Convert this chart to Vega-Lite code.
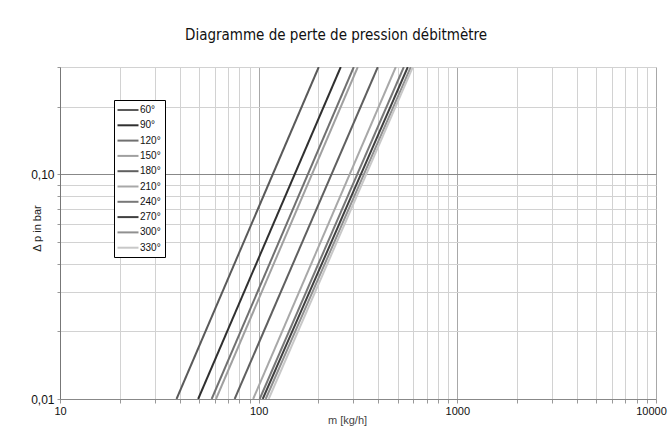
{
  "$schema": "https://vega.github.io/schema/vega-lite/v6.json",
  "autosize": "none",
  "width": 596,
  "height": 332,
  "padding": {"left": 60, "top": 67, "right": 14, "bottom": 40},
  "background": "white",
  "title": {
    "text": "Diagramme de perte de pression débitmètre",
    "font": "DejaVu Sans Condensed, Liberation Sans",
    "fontSize": 15,
    "fontWeight": "normal",
    "color": "#111111",
    "anchor": "middle",
    "dx": -22,
    "offset": 18
  },
  "config": {
    "font": "Liberation Sans",
    "view": {"stroke": "#cccccc", "strokeWidth": 1},
    "legend": {"strokeWidth": 1}
  },
  "data": {
    "values": [
      {"angle": "60°", "m": 38.6, "dp": 0.01}, {"angle": "60°", "m": 200.6, "dp": 0.3},
      {"angle": "90°", "m": 49.6, "dp": 0.01}, {"angle": "90°", "m": 258.9, "dp": 0.3},
      {"angle": "120°", "m": 58.0, "dp": 0.01}, {"angle": "120°", "m": 301.1, "dp": 0.3},
      {"angle": "150°", "m": 61.0, "dp": 0.01}, {"angle": "150°", "m": 315.3, "dp": 0.3},
      {"angle": "180°", "m": 75.7, "dp": 0.01}, {"angle": "180°", "m": 397.7, "dp": 0.3},
      {"angle": "210°", "m": 93.8, "dp": 0.01}, {"angle": "210°", "m": 490.0, "dp": 0.3},
      {"angle": "240°", "m": 101.2, "dp": 0.01}, {"angle": "240°", "m": 537.8, "dp": 0.3},
      {"angle": "270°", "m": 104.8, "dp": 0.01}, {"angle": "270°", "m": 563.2, "dp": 0.3},
      {"angle": "300°", "m": 108.5, "dp": 0.01}, {"angle": "300°", "m": 583.2, "dp": 0.3},
      {"angle": "330°", "m": 112.3, "dp": 0.01}, {"angle": "330°", "m": 596.9, "dp": 0.3}
    ]
  },
  "mark": {"type": "line", "strokeWidth": 2, "clip": true},
  "encoding": {
    "x": {
      "field": "m",
      "type": "quantitative",
      "scale": {"type": "log", "domain": [10, 10000], "nice": false},
      "axis": {
        "title": "m [kg/h]",
        "titleFont": "Liberation Sans",
        "titleFontSize": 11,
        "titleFontWeight": "normal",
        "titleColor": "#444444",
        "titleX": 287,
        "titleY": 21,
        "titleBaseline": "middle",
        "values": [10,20,30,40,50,60,70,80,90,100,200,300,400,500,600,700,800,900,1000,2000,3000,4000,5000,6000,7000,8000,9000,10000],
        "labelExpr": "(datum.value == 10 || datum.value == 100 || datum.value == 1000 || datum.value == 10000) ? datum.value + '' : ''",
        "labelFontSize": 11,
        "labelColor": "#111111",
        "labelPadding": 2,
        "labelFlush": false,
        "labelOverlap": false,
        "labelOffset": {"condition": {"test": "datum.value == 10000", "value": -5}, "value": 0},
        "tickSize": 4,
        "tickColor": "#999999",
        "domainColor": "#888888",
        "gridColor": {"condition": {"test": "datum.value == 100 || datum.value == 1000 || datum.value == 10000", "value": "#a8a8a8"}, "value": "#d2d2d2"},
        "gridWidth": 1
      }
    },
    "y": {
      "field": "dp",
      "type": "quantitative",
      "scale": {"type": "log", "domain": [0.01, 0.3], "nice": false},
      "axis": {
        "title": "Δ p in bar",
        "titleFont": "Liberation Sans",
        "titleFontSize": 11,
        "titleFontWeight": "normal",
        "titleColor": "#222222",
        "titleX": -23,
        "titleY": 161,
        "titleAngle": -90,
        "titleBaseline": "middle",
        "values": [0.01,0.02,0.03,0.04,0.05,0.06,0.07,0.08,0.09,0.1,0.2,0.3],
        "labelExpr": "abs(datum.value - 0.01) < 0.0001 ? '0,01' : (abs(datum.value - 0.1) < 0.0001 ? '0,10' : '')",
        "labelFontSize": 12,
        "labelColor": "#111111",
        "labelPadding": 3,
        "labelOverlap": false,
        "tickSize": 3,
        "tickColor": "#999999",
        "domainColor": "#777777",
        "gridColor": {"condition": {"test": "abs(datum.value - 0.1) < 0.0001", "value": "#888888"}, "value": "#d2d2d2"},
        "gridWidth": 1
      }
    },
    "color": {
      "field": "angle",
      "type": "nominal",
      "scale": {
        "domain": ["60°","90°","120°","150°","180°","210°","240°","270°","300°","330°"],
        "range": ["#5a5a5a","#303030","#707070","#a0a0a0","#606060","#a8a8a8","#787878","#404040","#909090","#c8c8c8"]
      },
      "legend": {
        "title": null,
        "orient": "none",
        "legendX": 54,
        "legendY": 33,
        "direction": "vertical",
        "symbolType": "M-2.1,0H2.1",
        "symbolSize": 100,
        "symbolStrokeWidth": 2,
        "symbolOffset": 4,
        "labelOffset": 6,
        "labelFontSize": 10,
        "labelColor": "#111111",
        "padding": 4,
        "rowPadding": 4.3,
        "strokeColor": "#000000",
        "fillColor": "#ffffff"
      }
    }
  }
}
